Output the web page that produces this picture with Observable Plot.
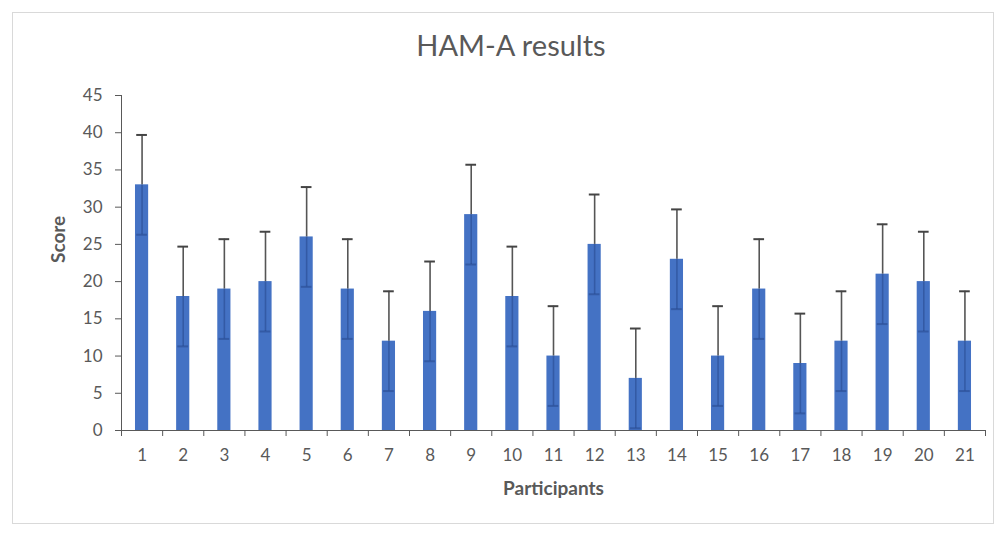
<!DOCTYPE html>
<html>
<head>
<meta charset="utf-8">
<script src="https://cdn.jsdelivr.net/npm/d3@7"></script>
<script src="https://cdn.jsdelivr.net/npm/@observablehq/plot@0.6"></script>
<style>
  body { margin: 0; background: #fff; font-family: Lato, "Noto Sans", sans-serif; }
  #wrap { position: relative; width: 1003px; height: 535px; overflow: hidden; background: #fff; }
  #frame { position: absolute; left: 12px; top: 12px; width: 982px; height: 512px; border: 1px solid #d9d9d9; box-sizing: border-box; }
  #title { position: absolute; left: 0; width: 1022px; top: 27px; text-align: center; font-size: 29px; color: #595959; font-family: Lato, sans-serif; }
  #chart { position: absolute; left: 0; top: 0; }
</style>
</head>
<body>
<div id="wrap">
  <div id="frame"></div>
  <div id="chart"></div>
  <div id="title">HAM-A results</div>
</div>
<script>
const participants = [1,2,3,4,5,6,7,8,9,10,11,12,13,14,15,16,17,18,19,20,21];
const scores = [33,18,19,20,26,19,12,16,29,18,10,25,7,23,10,19,9,12,21,20,12];
const errors = [6.7,6.7,6.7,6.7,6.7,6.7,6.7,6.7,6.7,6.7,6.7,6.7,6.7,6.7,6.7,6.7,6.7,6.7,6.7,6.7,6.7];
const yTicks = [0,5,10,15,20,25,30,35,40,45];

const data = participants.map((p, i) => ({p, score: scores[i], err: errors[i]}));
const boundaries = [0.5, ...participants.map(p => p + 0.5)];

const halfBar = 0.16, halfCap = 0.13;
const textColor = "#595959";

const chart = Plot.plot({
  width: 1003,
  height: 535,
  marginLeft: 121,
  marginRight: 18,
  marginTop: 95,
  marginBottom: 105,
  style: {fontFamily: "Lato, sans-serif", fontSize: "17px", color: textColor, background: "transparent"},
  x: {type: "linear", domain: [0.5, 21.5]},
  y: {domain: [0, 45]},
  marks: [
    Plot.rectY(data, {x1: d => d.p - halfBar, x2: d => d.p + halfBar, y: "score", fill: "#4472c4"}),
    Plot.ruleX(data, {x: "p", y1: "score", y2: d => d.score + d.err, stroke: "#555555", strokeWidth: 1.6}),
    Plot.ruleX(data, {x: "p", y1: d => d.score - d.err, y2: "score", stroke: "#1f3f80", strokeOpacity: 0.45, strokeWidth: 1.6}),
    Plot.ruleY(data, {x1: d => d.p - halfCap, x2: d => d.p + halfCap, y: d => d.score + d.err, stroke: "#444444", strokeWidth: 2}),
    Plot.ruleY(data, {x1: d => d.p - halfCap, x2: d => d.p + halfCap, y: d => d.score - d.err, stroke: "#1f3f80", strokeOpacity: 0.45, strokeWidth: 2}),
    Plot.axisY({ticks: yTicks, tickSize: 6, tickPadding: 13, label: null, stroke: "#595959", color: textColor}),
    Plot.ruleX([0.5], {stroke: "#595959", strokeWidth: 1}),
    Plot.ruleY([0], {stroke: "#595959", strokeWidth: 1.2}),
    Plot.axisX({ticks: boundaries, tickSize: 6, tickFormat: () => "", label: null, stroke: "#595959"}),
    Plot.axisX({ticks: participants, tickSize: 0, tickPadding: 18, tickFormat: d => String(d), label: null, color: textColor}),
    Plot.text(["Score"], {frameAnchor: "left", dx: -63, rotate: -90, fontWeight: "bold", fontSize: 19, fill: textColor}),
    Plot.text(["Participants"], {frameAnchor: "bottom", dy: 64, fontWeight: "bold", fontSize: 19, fill: textColor})
  ]
});
document.getElementById("chart").appendChild(chart);
</script>
</body>
</html>
